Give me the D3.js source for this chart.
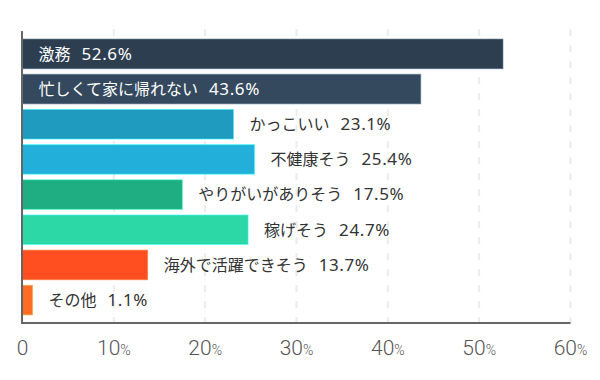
<!DOCTYPE html>
<html>
<head>
<meta charset="utf-8">
<script src="https://cdn.jsdelivr.net/npm/d3@7"></script>
<style>
  body { margin: 0; background: #fff; }
  svg { display: block; }
</style>
</head>
<body>
<svg id="chart" width="600" height="380"></svg>
<script>
// data
let categories = ['激務', '忙しくて家に帰れない', 'かっこいい', '不健康そう', 'やりがいがありそう', '稼げそう', '海外で活躍できそう', 'その他']
let values = [52.6, 43.6, 23.1, 25.4, 17.5, 24.7, 13.7, 1.1]
let ticks = [0, 10, 20, 30, 40, 50, 60]

let colours = ['#2c3e50', '#34495e', '#1f9bc0', '#22b0db', '#1fae82', '#2bd8a6', '#ff4f20', '#ff6d24']

let data = categories.map(function(c, i) {
  return { name: c, value: values[i] }
})

let svg = d3.select('#chart')
let plotTop = 31
let plotBottom = 323

let x = d3.scaleLinear()
    .domain([0, 60])
    .range([22.5, 570.5])

let y = d3.scaleBand()
    .domain(categories)
    .range([36.3, 317.7])
    .paddingInner(0.16)
    .paddingOuter(0.08)

// dashed grid
svg.append('g')
    .attr('class', 'grid')
  .selectAll('line')
    .data(ticks.filter(function(t) { return t > 0 }))
  .enter().append('line')
    .attr('x1', function(d) { return x(d) })
    .attr('x2', function(d) { return x(d) })
    .attr('y1', plotTop - 2)
    .attr('y2', plotBottom)
    .style('stroke', '#ebebeb')
    .style('stroke-width', 2)
    .style('stroke-dasharray', '7,9')

let bars = svg.append('g')

bars.selectAll('.bar')
    .data(data)
  .enter().append('rect')
    .attr('class', 'bar')
    .attr('x', x(0))
    .attr('y', function(d) { return y(d.name) })
    .attr('height', y.bandwidth())
    .attr('width', function(d) { return x(d.value) - x(0) })
    .attr('fill', function(d, i) { return colours[i] })
    .attr('stroke', function(d, i) { return d3.color(colours[i]).brighter(1.2) })
    .attr('stroke-opacity', 0.6)
    .attr('stroke-width', 1)

// bar labels
let labels = bars.selectAll('.label')
    .data(data)
  .enter().append('text')
    .attr('class', 'label')
    .attr('x', function(d) { return d.value > 30 ? x(0) + 16 : x(d.value) + 16 })
    .attr('y', function(d) { return y(d.name) + y.bandwidth() / 2 })
    .attr('dy', '0.36em')
    .style('font-family', '"Noto Sans CJK JP", sans-serif')
    .style('font-size', '16px')
    .style('fill', function(d) { return d.value > 30 ? '#fff' : '#333' })

labels.append('tspan')
    .text(function(d) { return d.name })

labels.append('tspan')
    .attr('dx', 11)
    .style('font-family', '"Noto Sans", "Noto Sans CJK JP", sans-serif')
    .style('font-size', '17px')
    .style('letter-spacing', '0.6px')
    .text(function(d) { return d.value.toFixed(1) + '%' })

// axis lines
svg.append('line')
    .attr('x1', x(0) - 0.5).attr('x2', x(0) - 0.5)
    .attr('y1', plotTop).attr('y2', plotBottom + 1)
    .style('stroke', '#666')
    .style('stroke-width', 2)

svg.append('line')
    .attr('x1', x(0) - 1.5).attr('x2', x(60))
    .attr('y1', plotBottom).attr('y2', plotBottom)
    .style('stroke', '#666')
    .style('stroke-width', 2)

// tick labels
let tickText = svg.append('g')
  .selectAll('text')
    .data(ticks)
  .enter().append('text')
    .attr('x', function(d) { return x(d) })
    .attr('y', 355)
    .attr('text-anchor', 'middle')
    .style('font-family', 'Roboto, sans-serif')
    .style('font-weight', 300)
    .style('font-size', '21px')
    .style('fill', '#555')

tickText.append('tspan')
    .text(function(d) { return d })

tickText.append('tspan')
    .style('font-size', '14px')
    .text(function(d) { return d > 0 ? '%' : '' })
</script>
</body>
</html>
